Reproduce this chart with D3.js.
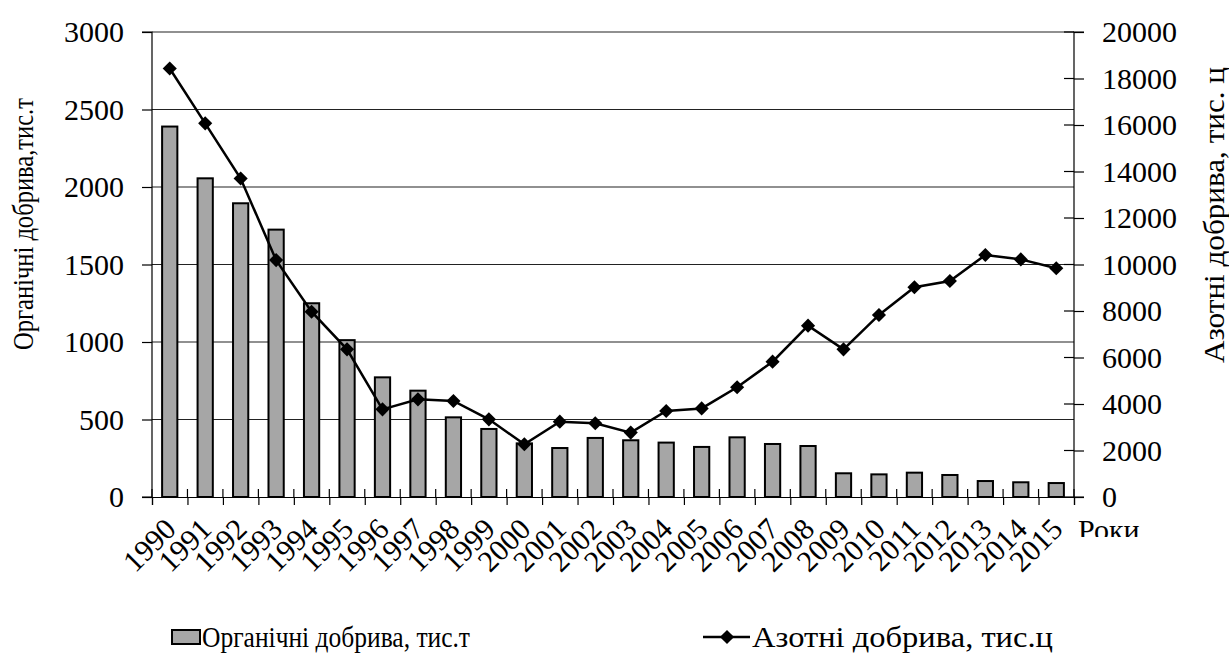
<!DOCTYPE html>
<html><head><meta charset="utf-8">
<script src="https://cdn.jsdelivr.net/npm/d3@7"></script>
<style>
html,body{margin:0;padding:0;background:#fff;}
</style></head>
<body>
<svg id="chart" width="1229" height="662"></svg>
<script>
const years = ["1990","1991","1992","1993","1994","1995","1996","1997","1998","1999","2000","2001","2002","2003","2004","2005","2006","2007","2008","2009","2010","2011","2012","2013","2014","2015"];
const organic = [2390,2056,1895,1725,1250,1012,772,686,514,439,346,316,381,366,351,323,385,342,329,153,146,157,142,103,95,90];
const nitrogen = [18430,16070,13700,10190,7970,6350,3770,4200,4130,3340,2270,3240,3170,2770,3700,3810,4720,5820,7370,6350,7830,9020,9290,10410,10220,9840];
const leftTicks = [0,500,1000,1500,2000,2500,3000];
const rightTicks = [0,2000,4000,6000,8000,10000,12000,14000,16000,18000,20000];
const leftTitle = "Органічні добрива,тис.т";
const rightTitle = "Азотні добрива, тис. ц";
const xTitle = "Роки";
const legendLabels = ["Органічні добрива, тис.т","Азотні добрива, тис.ц"];

const FONT = "'Liberation Serif'";
const svg = d3.select("#chart");
const L = 152, R = 1074, T = 32, B = 497;

const x = d3.scaleBand().domain(years).range([L, R]).paddingInner(0.57).paddingOuter(0.285);
const xb = d3.scaleLinear().domain([0, years.length]).range([L, R]);
const yL = d3.scaleLinear().domain([0, 3000]).range([B, T]);
const yR = d3.scaleLinear().domain([0, 20000]).range([B, T]);

// gridlines
svg.append("g").selectAll("line").data(leftTicks.filter(d => d > 0)).join("line")
  .attr("x1", L).attr("x2", R).attr("y1", d => yL(d)).attr("y2", d => yL(d))
  .attr("stroke", "#222").attr("stroke-width", 1.2);

// bars
svg.append("g").selectAll("rect").data(years).join("rect")
  .attr("x", d => x(d)).attr("width", x.bandwidth())
  .attr("y", (d, i) => yL(organic[i])).attr("height", (d, i) => B - yL(organic[i]))
  .attr("fill", "#a6a6a6").attr("stroke", "#000").attr("stroke-width", 2);

// left axis
const gl = svg.append("g").attr("transform", `translate(${L},0)`)
  .call(d3.axisLeft(yL).tickValues(leftTicks).tickSize(10).tickPadding(18).tickFormat(d3.format("d")));
// right axis
const gr = svg.append("g").attr("transform", `translate(${R},0)`)
  .call(d3.axisRight(yR).tickValues(rightTicks).tickSize(10).tickPadding(18).tickFormat(d3.format("d")));
svg.append("g").selectAll("line").data(rightTicks).join("line")
  .attr("x1", R - 10).attr("x2", R).attr("y1", d => yR(d)).attr("y2", d => yR(d))
  .attr("stroke", "#000").attr("stroke-width", 1.2);
// bottom axis with boundary ticks
const gb = svg.append("g").attr("transform", `translate(0,${B})`)
  .call(d3.axisBottom(xb).tickValues(d3.range(years.length + 1)).tickSize(8).tickFormat(""));
svg.append("g").selectAll("line").data(d3.range(years.length + 1)).join("line")
  .attr("x1", d => xb(d)).attr("x2", d => xb(d)).attr("y1", B - 8).attr("y2", B)
  .attr("stroke", "#000").attr("stroke-width", 1.2);

[gl, gr, gb].forEach(g => {
  g.select(".domain").attr("stroke", "#000").attr("stroke-width", 1.2);
  g.selectAll(".tick line").attr("stroke", "#000").attr("stroke-width", 1.2);
  g.selectAll(".tick text").attr("fill", "#000")
    .style("font-family", FONT).style("font-size", "30px");
});
gl.select(".domain").attr("d", `M-10,${T}H0V${B}H-10`);
gr.select(".domain").attr("d", `M10,${T}H0V${B}H10`);

// year labels
svg.append("g").selectAll("text").data(years).join("text")
  .attr("transform", d => `translate(${x(d) + x.bandwidth() / 2 + 8},${B + 34}) rotate(-45)`)
  .attr("text-anchor", "end").style("font-family", FONT).style("font-size", "30px").text(d => d);

// line
const line = d3.line().x((d, i) => x(years[i]) + x.bandwidth() / 2).y(d => yR(d));
svg.append("path").datum(nitrogen).attr("d", line)
  .attr("fill", "none").attr("stroke", "#000").attr("stroke-width", 2.5);
const diamond = d3.symbol().type(d3.symbolSquare).size(100);
svg.append("g").selectAll("path").data(nitrogen).join("path")
  .attr("d", diamond)
  .attr("transform", (d, i) => `translate(${x(years[i]) + x.bandwidth() / 2},${yR(d)}) rotate(45)`)
  .attr("fill", "#000");

// axis titles
svg.append("text").attr("transform", `translate(33,224) rotate(-90)`)
  .attr("text-anchor", "middle").style("font-family", FONT).style("font-size", "30px")
  .attr("textLength", 252).attr("lengthAdjust", "spacingAndGlyphs").text(leftTitle);
svg.append("text").attr("transform", `translate(1224,215) rotate(-90)`)
  .attr("text-anchor", "middle").style("font-family", FONT).style("font-size", "29px")
  .attr("textLength", 296).attr("lengthAdjust", "spacingAndGlyphs").text(rightTitle);

// "Роки" clipped at bottom
svg.append("clipPath").attr("id", "clipR").append("rect")
  .attr("x", 1070).attr("y", 500).attr("width", 100).attr("height", 37);
svg.append("text").attr("x", 1078).attr("y", 540).style("font-family", FONT).style("font-size", "30px")
  .attr("clip-path", "url(#clipR)").text(xTitle);

// legend
const lg = svg.append("g");
lg.append("rect").attr("x", 172).attr("y", 630).attr("width", 28).attr("height", 14)
  .attr("fill", "#a6a6a6").attr("stroke", "#000").attr("stroke-width", 2);
lg.append("text").attr("x", 202).attr("y", 647).style("font-family", FONT).style("font-size", "29px")
  .attr("textLength", 268).attr("lengthAdjust", "spacingAndGlyphs").text(legendLabels[0]);
lg.append("line").attr("x1", 703).attr("x2", 750).attr("y1", 637).attr("y2", 637)
  .attr("stroke", "#000").attr("stroke-width", 2.5);
lg.append("path").attr("d", diamond).attr("transform", "translate(727,637) rotate(45)").attr("fill", "#000");
lg.append("text").attr("x", 752).attr("y", 647).style("font-family", FONT).style("font-size", "29px")
  .attr("textLength", 301).attr("lengthAdjust", "spacingAndGlyphs").text(legendLabels[1]);
</script>
</body></html>
